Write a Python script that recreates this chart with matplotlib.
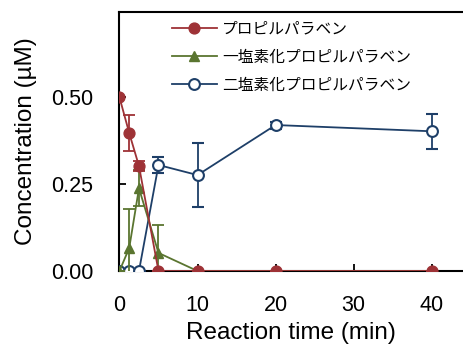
import numpy as np
import matplotlib.pyplot as plt
from matplotlib.lines import Line2D

plt.rcParams['font.family'] = ['Liberation Sans', 'Noto Sans CJK JP']

t = [0, 1.25, 2.5, 5, 10, 20, 40]

propyl = [0.50, 0.397, 0.302, 0.0, 0.0, 0.0, 0.0]
propyl_err = [0.0, 0.052, 0.015, 0.0, 0.0, 0.0, 0.0]

mono = [0.0, 0.066, 0.238, 0.052, 0.0, 0.0, 0.0]
mono_err = [0.0, 0.113, 0.052, 0.08, 0.0, 0.0, 0.0]

di = [0.0, 0.0, 0.0, 0.305, 0.276, 0.42, 0.402]
di_err = [0.0, 0.0, 0.0, 0.022, 0.092, 0.01, 0.05]

labels = ['プロピルパラベン', '一塩素化プロピルパラベン', '二塩素化プロピルパラベン']
c_red = '#9E3236'
c_green = '#5A7530'
c_blue = '#1E3F68'

fig = plt.figure(figsize=(4.63, 3.45), dpi=100)
ax = fig.add_axes([0.258, 0.2145, 0.742, 0.7505])

kw = dict(ms=7.8, lw=1.3, capsize=4, elinewidth=1.3, capthick=1.3)
ax.errorbar(t, di, yerr=di_err, color=c_blue, marker='o', mfc='white', mec=c_blue,
            mew=1.5, zorder=3, **kw)
ax.errorbar(t, mono, yerr=mono_err, color=c_green, marker='^', zorder=4, **kw)
ax.errorbar(t, propyl, yerr=propyl_err, color=c_red, marker='o', zorder=5, **kw)

ax.set_xlim(0, 44)
ax.set_ylim(0, 0.745)
ax.set_xticks([0, 10, 20, 30, 40])
ax.set_yticks([0, 0.25, 0.5])
ax.set_yticklabels(['0.00', '0.25', '0.50'])
ax.tick_params(direction='in', length=5, width=1.3, labelsize=15.5)
ax.tick_params(axis='y', pad=19)
ax.tick_params(axis='x', pad=17)
for s in ['left', 'top', 'bottom']:
    ax.spines[s].set_linewidth(1.5)
ax.spines['right'].set_visible(False)

ax.set_xlabel('Reaction time (min)', fontsize=17.5, labelpad=4.5)
ax.set_ylabel('Concentration (µM)', fontsize=17.5, labelpad=10)

handles = [
    Line2D([], [], color=c_red, marker='o', ms=7.8, lw=1.3),
    Line2D([], [], color=c_green, marker='^', ms=7.8, lw=1.3),
    Line2D([], [], color=c_blue, marker='o', mfc='white', mec=c_blue, mew=1.5, ms=7.8, lw=1.3),
]
ax.legend(handles, labels, loc='upper left', bbox_to_anchor=(0.152, 0.967),
          frameon=False, handlelength=2.9, handletextpad=0.3,
          labelspacing=0.7, borderaxespad=0, borderpad=0,
          prop={'family': ['Noto Sans CJK JP'], 'size': 11.3})

fig.savefig('out.png', dpi=100)
